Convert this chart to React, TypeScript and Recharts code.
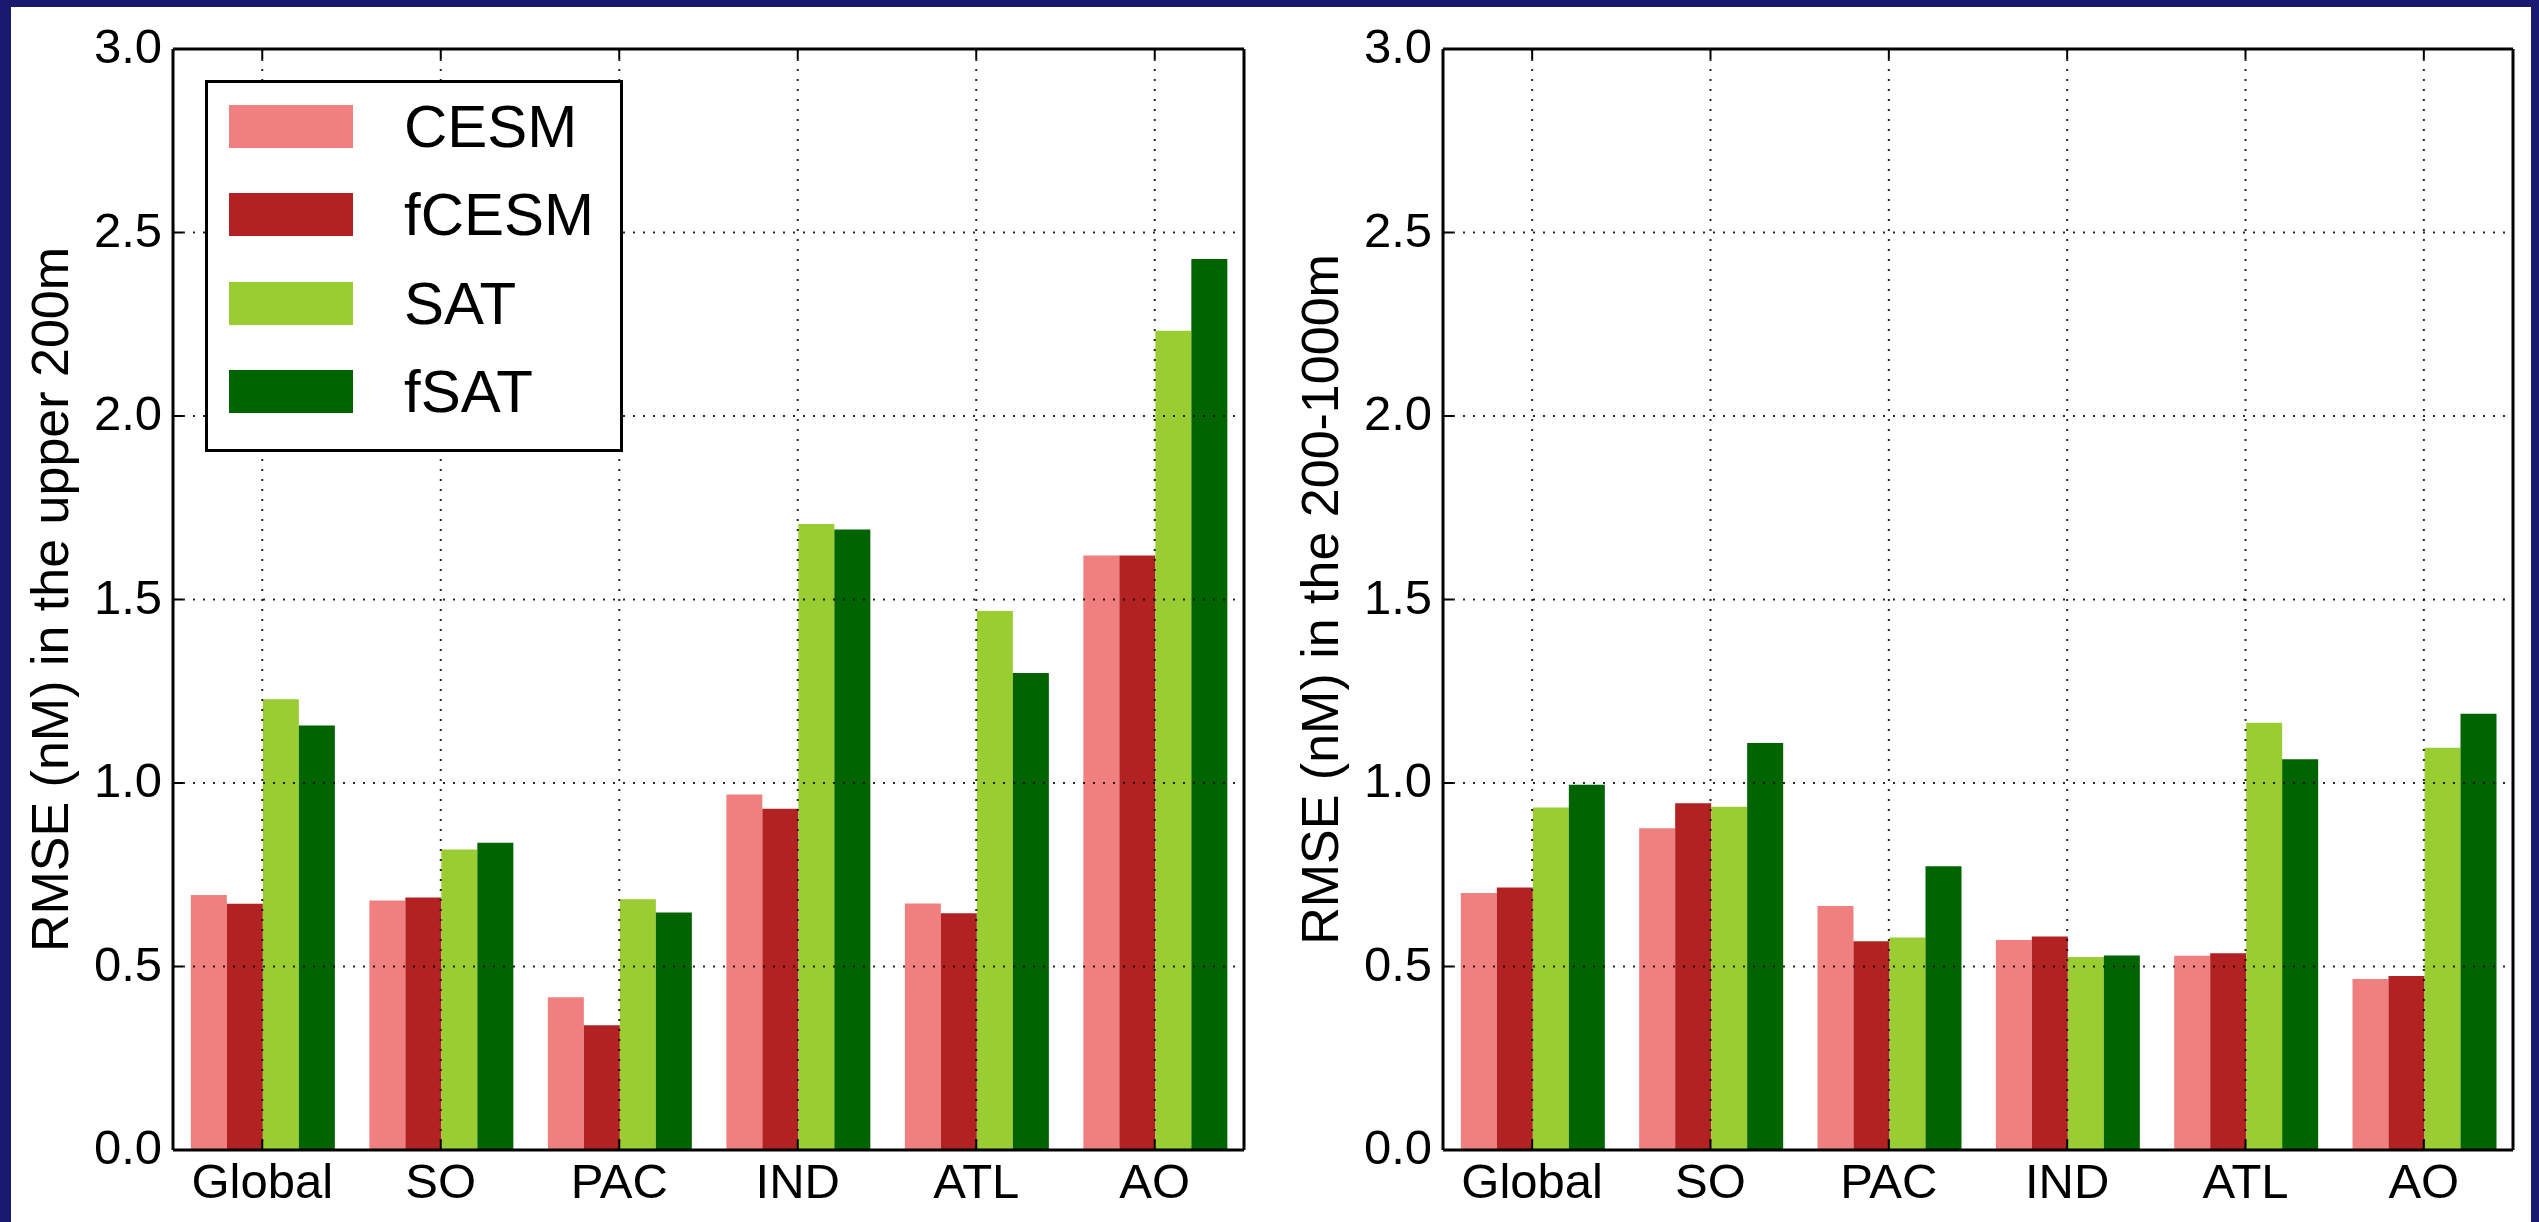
import React from 'react';
import { BarChart, Bar, XAxis, YAxis, CartesianGrid, Legend, Label } from 'recharts';

const FONT = '"Liberation Sans", Arial, Helvetica, sans-serif';

const categories = ['Global', 'SO', 'PAC', 'IND', 'ATL', 'AO'];
const seriesNames = ['CESM', 'fCESM', 'SAT', 'fSAT'];
const seriesColors = ['#F08080', '#B22222', '#9ACD32', '#006400'];

// RMSE in the upper 200m
const upperCESM = [0.695, 0.68, 0.416, 0.969, 0.672, 1.62];
const upperFCESM = [0.671, 0.688, 0.34, 0.93, 0.645, 1.62];
const upperSAT = [1.228, 0.819, 0.683, 1.706, 1.469, 2.232];
const upperFSAT = [1.157, 0.837, 0.647, 1.691, 1.3, 2.428];

// RMSE in the 200-1000m
const deepCESM = [0.7, 0.877, 0.665, 0.572, 0.529, 0.466];
const deepFCESM = [0.715, 0.945, 0.569, 0.582, 0.536, 0.474];
const deepSAT = [0.933, 0.935, 0.579, 0.526, 1.164, 1.096];
const deepFSAT = [0.995, 1.109, 0.773, 0.53, 1.065, 1.189];

const yTicks = [0, 0.5, 1, 1.5, 2, 2.5, 3];

function buildRows(cols: number[][]) {
  return categories.map((name, i) => {
    const row: Record<string, string | number> = { name };
    seriesNames.forEach((s, k) => {
      row[s] = cols[k][i];
    });
    return row;
  });
}

const upperRows = buildRows([upperCESM, upperFCESM, upperSAT, upperFSAT]);
const deepRows = buildRows([deepCESM, deepFCESM, deepSAT, deepFSAT]);

function LegendBox({ payload }: any) {
  // keep the order the bars were drawn in
  const items = [...((payload || []) as any[])].sort(
    (a, b) => seriesNames.indexOf(a.value) - seriesNames.indexOf(b.value)
  );
  return (
    <div
      style={{
        width: 418,
        height: 372,
        boxSizing: 'border-box',
        border: '3px solid #000',
        background: '#fff',
        paddingTop: 22,
        paddingLeft: 21,
        fontFamily: FONT,
      }}
    >
      {items.map((p, i) => (
        <div key={i} style={{ display: 'flex', alignItems: 'center', height: 43, marginBottom: 45.3 }}>
          <span style={{ display: 'inline-block', width: 124, height: 43, background: p.color }} />
          <span style={{ marginLeft: 51, fontSize: 60, lineHeight: '43px', color: '#000' }}>{p.value}</span>
        </div>
      ))}
    </div>
  );
}

const yLabelContent = (text: string) => (props: any) => {
  const vb = props.viewBox || { x: 0, y: 0, width: 0, height: 0 };
  const x = vb.x + vb.width - 105;
  const y = vb.y + vb.height / 2;
  return (
    <text
      x={x}
      y={y}
      transform={`rotate(-90, ${x}, ${y})`}
      textAnchor="middle"
      fontSize={52}
      fontFamily={FONT}
      fill="#000"
    >
      {text}
    </text>
  );
};

interface PanelProps {
  rows: Record<string, string | number>[];
  yLabel: string;
  left: number;
  width: number;
  leftAxisWidth: number;
  rightAxisWidth: number;
  showLegend?: boolean;
}

function Panel({ rows, yLabel, left, width, leftAxisWidth, rightAxisWidth, showLegend }: PanelProps) {
  const tickStyle = { fill: '#000', fontSize: 49, fontFamily: FONT };
  const axisLine = { stroke: '#000', strokeWidth: 3 };
  const tickLine = { stroke: '#000', strokeWidth: 2 };
  return (
    <div style={{ position: 'absolute', left, top: 0 }}>
      <BarChart
        width={width}
        height={1222}
        data={rows}
        margin={{ top: 19, right: 0, bottom: 0, left: 0 }}
        barCategoryGap="10%"
        barGap={0}
      >
        {seriesNames.map((s, k) => (
          <Bar key={s} dataKey={s} fill={seriesColors[k]} stroke="none" isAnimationActive={false} />
        ))}
        <CartesianGrid
          stroke="#000"
          strokeWidth={2}
          strokeDasharray="2 8"
          strokeOpacity={0.85}
          zIndex={400}
        />
        <XAxis
          dataKey="name"
          height={72}
          axisLine={axisLine}
          tickLine={tickLine}
          tickSize={-10}
          tickMargin={23}
          tick={tickStyle}
          interval={0}
        />
        <XAxis
          xAxisId="top"
          dataKey="name"
          orientation="top"
          height={30}
          axisLine={axisLine}
          tickLine={tickLine}
          tickSize={-10}
          tickFormatter={() => ''}
          interval={0}
        />
        <YAxis
          width={leftAxisWidth}
          domain={[0, 3]}
          ticks={yTicks}
          axisLine={axisLine}
          tickLine={tickLine}
          tickSize={-10}
          tickMargin={21}
          tick={{ ...tickStyle, dy: -3 }}
          tickFormatter={(v: number) => v.toFixed(1)}
          interval={0}
        >
          <Label content={yLabelContent(yLabel)} />
        </YAxis>
        <YAxis
          yAxisId="right"
          orientation="right"
          width={rightAxisWidth}
          domain={[0, 3]}
          ticks={yTicks}
          axisLine={axisLine}
          tickLine={tickLine}
          tickSize={-10}
          tickFormatter={() => ''}
          interval={0}
        />
        {showLegend && (
          <Legend
            layout="horizontal"
            verticalAlign="middle"
            align="center"
            width={418}
            itemSorter={null}
            wrapperStyle={{ left: 205, top: 80, width: 418, height: 372 }}
            content={<LegendBox />}
          />
        )}
      </BarChart>
    </div>
  );
}

export default function App() {
  return (
    <div
      style={{
        position: 'absolute',
        left: 0,
        top: 0,
        width: 2539,
        height: 1222,
        background: '#191970',
        overflow: 'hidden',
      }}
    >
      <div style={{ position: 'absolute', left: 11, top: 7, width: 2520, height: 1215, background: '#fff' }} />
      <Panel
        rows={upperRows}
        yLabel="RMSE (nM) in the upper 200m"
        left={0}
        width={1260}
        leftAxisWidth={173}
        rightAxisWidth={16}
        showLegend
      />
      <Panel
        rows={deepRows}
        yLabel="RMSE (nM) in the 200-1000m"
        left={1260}
        width={1270}
        leftAxisWidth={183}
        rightAxisWidth={17}
      />
    </div>
  );
}
